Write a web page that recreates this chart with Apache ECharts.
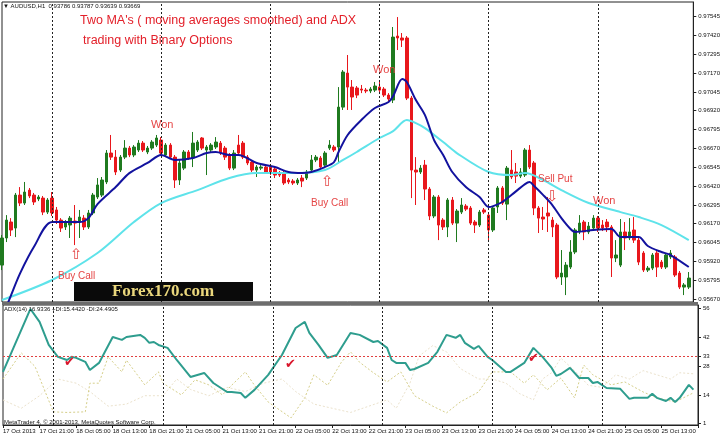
<!DOCTYPE html>
<html><head><meta charset="utf-8">
<script src="https://cdn.jsdelivr.net/npm/echarts@6/dist/echarts.min.js"></script>
<style>html,body{margin:0;padding:0;background:#fff}#c{width:723px;height:438px}</style>
</head><body><div id="c"></div>
<script>
const tickLabels = ['17 Oct 2013','17 Oct 21:00','18 Oct 05:00','18 Oct 13:00','18 Oct 21:00','21 Oct 05:00','21 Oct 13:00','21 Oct 21:00','22 Oct 05:00','22 Oct 13:00','22 Oct 21:00','23 Oct 05:00','23 Oct 13:00','23 Oct 21:00','24 Oct 05:00','24 Oct 13:00','24 Oct 21:00','25 Oct 05:00','25 Oct 13:00'];
const barCount = 152;
const daySeparators = [11,35,59,83,107,131];
const priceTicks = [0.95670,0.95795,0.95920,0.96045,0.96170,0.96295,0.96420,0.96545,0.96670,0.96795,0.96920,0.97045,0.97170,0.97295,0.97420,0.97545];
const adxTicks = [1,14,28,33,42,56];
const adxLevel = 33;

const opens = [0.95895,0.96075,0.96181,0.96141,0.96360,0.96307,0.96393,0.96360,0.96334,0.96340,0.96247,0.96340,0.96261,0.96194,0.96148,0.96161,0.96188,0.96181,0.96207,0.96148,
0.96241,0.96347,0.96360,0.96447,0.96639,0.96612,0.96526,0.96612,0.96672,0.96626,0.96659,0.96705,0.96646,0.96672,0.96692,0.96725,0.96626,0.96692,0.96612,0.96460,
0.96539,0.96646,0.96606,0.96659,0.96739,0.96659,0.96659,0.96679,0.96705,0.96672,0.96626,0.96539,0.96692,0.96705,0.96612,0.96579,0.96526,0.96539,0.96546,0.96546,
0.96533,0.96506,0.96506,0.96460,0.96453,0.96440,0.96473,0.96473,0.96526,0.96593,0.96606,0.96559,0.96672,0.96679,0.96679,0.96944,0.97170,0.97077,0.97071,0.97064,
0.97057,0.97051,0.97057,0.97077,0.97064,0.97024,0.96991,0.97416,0.97403,0.97403,0.97004,0.96526,0.96513,0.96559,0.96400,0.96221,0.96347,0.96194,0.96148,0.96327,
0.96174,0.96247,0.96287,0.96274,0.96181,0.96161,0.96261,0.96227,0.96128,0.96281,0.96407,0.96300,0.96526,0.96513,0.96486,0.96493,0.96659,0.96573,0.96274,0.96214,
0.96241,0.96194,0.96161,0.95816,0.95816,0.95882,0.95982,0.96115,0.96181,0.96115,0.96141,0.96207,0.96161,0.96181,0.96148,0.95942,0.95895,0.96115,0.96075,0.96128,
0.96061,0.95975,0.95862,0.95875,0.95975,0.95915,0.95882,0.95949,0.95949,0.95842,0.95749,0.95749];
const closes = [0.96075,0.96194,0.96128,0.96360,0.96307,0.96380,0.96354,0.96314,0.96347,0.96247,0.96327,0.96241,0.96194,0.96141,0.96181,0.96207,0.96174,0.96214,0.96148,0.96241,
0.96360,0.96427,0.96460,0.96639,0.96612,0.96513,0.96612,0.96672,0.96626,0.96679,0.96705,0.96659,0.96672,0.96712,0.96739,0.96639,0.96692,0.96612,0.96460,0.96573,
0.96646,0.96606,0.96705,0.96712,0.96672,0.96679,0.96692,0.96712,0.96639,0.96612,0.96539,0.96639,0.96639,0.96612,0.96573,0.96526,0.96546,0.96546,0.96513,0.96506,
0.96493,0.96493,0.96440,0.96447,0.96440,0.96460,0.96453,0.96513,0.96593,0.96612,0.96546,0.96639,0.96692,0.96659,0.96944,0.97177,0.97077,0.97011,0.97024,0.97057,
0.97051,0.97064,0.97084,0.97057,0.97024,0.96998,0.97409,0.97403,0.97389,0.97004,0.96526,0.96513,0.96539,0.96400,0.96221,0.96347,0.96161,0.96148,0.96327,0.96174,
0.96254,0.96294,0.96267,0.96174,0.96161,0.96247,0.96247,0.96128,0.96274,0.96407,0.96307,0.96539,0.96480,0.96486,0.96513,0.96659,0.96546,0.96274,0.96207,0.96201,
0.96221,0.96148,0.95816,0.95842,0.95895,0.95982,0.96128,0.96174,0.96115,0.96154,0.96207,0.96141,0.96141,0.96148,0.95942,0.95962,0.96115,0.96075,0.96115,0.96061,
0.95915,0.95862,0.95875,0.95962,0.95882,0.95882,0.95962,0.95975,0.95829,0.95749,0.95763,0.95809];
const lows = [0.95862,0.96048,0.96088,0.96081,0.96287,0.96294,0.96340,0.96294,0.96320,0.96227,0.96234,0.96221,0.96168,0.96115,0.96128,0.96075,0.96028,0.96075,0.96128,0.96135,
0.96227,0.96334,0.96347,0.96433,0.96593,0.96493,0.96513,0.96599,0.96612,0.96612,0.96646,0.96646,0.96632,0.96659,0.96679,0.96626,0.96612,0.96599,0.96407,0.96427,
0.96526,0.96593,0.96546,0.96646,0.96659,0.96493,0.96646,0.96666,0.96626,0.96593,0.96526,0.96526,0.96626,0.96599,0.96559,0.96513,0.96480,0.96526,0.96500,0.96493,
0.96473,0.96480,0.96427,0.96433,0.96427,0.96427,0.96413,0.96460,0.96513,0.96579,0.96533,0.96546,0.96659,0.96646,0.96573,0.96925,0.96925,0.96925,0.97004,0.97037,
0.97037,0.97037,0.97044,0.97044,0.97011,0.96984,0.96971,0.97323,0.97343,0.96991,0.96340,0.96294,0.96500,0.96327,0.96194,0.96207,0.96061,0.96128,0.96081,0.96161,
0.96048,0.96234,0.96254,0.96161,0.96108,0.96148,0.96234,0.96061,0.96115,0.96241,0.96294,0.96194,0.96466,0.96440,0.96473,0.96480,0.96533,0.96227,0.96108,0.96128,
0.96115,0.96081,0.95802,0.95763,0.95696,0.95869,0.95968,0.96101,0.96061,0.96101,0.96128,0.96115,0.96121,0.96115,0.95816,0.95915,0.95882,0.95995,0.96061,0.96042,
0.95895,0.95849,0.95849,0.95862,0.95816,0.95869,0.95869,0.95935,0.95816,0.95736,0.95696,0.95736];
const highs = [0.96095,0.96227,0.96207,0.96374,0.96413,0.96447,0.96407,0.96374,0.96360,0.96354,0.96340,0.96380,0.96281,0.96207,0.96194,0.96221,0.96294,0.96261,0.96227,0.96261,
0.96374,0.96473,0.96480,0.96659,0.96759,0.96659,0.96626,0.96725,0.96686,0.96692,0.96725,0.96719,0.96686,0.96725,0.96759,0.96745,0.96705,0.96705,0.96626,0.96593,
0.96659,0.96659,0.96779,0.96725,0.96745,0.96692,0.96705,0.96745,0.96719,0.96686,0.96639,0.96659,0.96759,0.96719,0.96626,0.96593,0.96559,0.96559,0.96559,0.96559,
0.96546,0.96520,0.96520,0.96473,0.96466,0.96473,0.96493,0.96526,0.96626,0.96626,0.96619,0.96652,0.96725,0.96692,0.97077,0.97190,0.97290,0.97124,0.97084,0.97091,
0.97071,0.97077,0.97111,0.97124,0.97077,0.97037,0.97476,0.97542,0.97436,0.97416,0.97018,0.96612,0.96559,0.96593,0.96413,0.96360,0.96360,0.96207,0.96340,0.96347,
0.96267,0.96340,0.96300,0.96287,0.96194,0.96261,0.96274,0.96241,0.96287,0.96420,0.96420,0.96553,0.96659,0.96573,0.96539,0.96672,0.96692,0.96586,0.96287,0.96281,
0.96347,0.96214,0.96174,0.95995,0.95915,0.96061,0.96141,0.96227,0.96194,0.96181,0.96227,0.96221,0.96194,0.96201,0.96161,0.96061,0.96201,0.96181,0.96207,0.96214,
0.96075,0.95988,0.95889,0.95975,0.95988,0.95929,0.95975,0.95995,0.95962,0.95856,0.95776,0.95849];

const maFast = [[0,0.95544],[2,0.95696],[4,0.95842],[7,0.96015],[11,0.96181],[17,0.96181],[19,0.96207],[21,0.96300],[25,0.96413],[28,0.96506],[32,0.96573],[35,0.96626],[38,0.96593],[42,0.96606],[45,0.96639],[47,0.96646],[50,0.96626],[52,0.96626],[56,0.96573],[60,0.96546],[63,0.96513],[66,0.96506],[68,0.96513],[71,0.96546],[73,0.96579],[74,0.96646],[76,0.96759],[79,0.96858],[82,0.96938],[85,0.96978],[86,0.97018],[88,0.97131],[89,0.97111],[91,0.96991],[93,0.96891],[95,0.96725],[97,0.96626],[99,0.96513],[102,0.96413],[105,0.96347],[107,0.96281],[108,0.96287],[110,0.96314],[112,0.96360],[115,0.96433],[116,0.96447],[117,0.96420],[119,0.96360],[121,0.96294],[123,0.96207],[125,0.96135],[126,0.96115],[130,0.96128],[134,0.96135],[136,0.96081],[140,0.96081],[142,0.96022],[145,0.95982],[147,0.95962],[151,0.95882]];
const maSlow = [[0,0.95663],[11,0.95796],[21,0.95975],[29,0.96181],[35,0.96307],[43,0.96393],[50,0.96473],[56,0.96506],[65,0.96506],[71,0.96526],[75,0.96593],[78,0.96646],[83,0.96739],[86,0.96785],[89,0.96858],[91,0.96838],[93,0.96805],[97,0.96712],[100,0.96639],[107,0.96513],[112,0.96493],[115,0.96506],[119,0.96460],[123,0.96393],[129,0.96307],[136,0.96247],[140,0.96214],[145,0.96161],[151,0.96061]];
const adx = [[0,25.4],[6,55.5],[8,49.3],[10,38.3],[12,32.6],[14,31.1],[15,32.6],[16,32.1],[18,30.2],[19,26.3],[21,29.7],[24,42.1],[26,40.7],[27,42.1],[30,43.1],[31,41.7],[32,39.3],[33,39.7],[34,38.3],[36,36.9],[38,31.1],[41,23.0],[44,24.9],[46,20.1],[49,15.8],[50,15.8],[52,15.3],[53,13.0],[55,16.8],[58,24.0],[61,33.5],[64,46.4],[66,49.3],[67,44.1],[69,38.3],[71,32.1],[73,33.5],[76,44.0],[78,43.1],[81,39.7],[82,40.2],[84,36.9],[85,31.1],[86,29.7],[88,29.7],[89,26.3],[90,26.8],[93,29.7],[95,35.0],[97,43.1],[99,41.7],[100,43.1],[101,39.3],[103,36.4],[104,37.8],[106,32.6],[107,31.1],[110,25.4],[111,25.4],[114,29.7],[116,36.9],[118,32.6],[120,27.3],[121,23.5],[122,24.4],[124,27.3],[126,22.5],[128,22.5],[129,20.1],[130,20.6],[132,17.7],[135,17.3],[137,12.5],[138,13.0],[141,13.0],[142,14.9],[143,13.0],[145,11.5],[146,13.0],[147,11.0],[148,13.0],[150,19.2],[151,16.9]];
const plusDI = [[0,22],[4,34.5],[7,28],[11,6.3],[14,6],[18,6.3],[19,20],[21,20],[23,32.6],[26,25.4],[27,31],[31,19.2],[34,25.4],[35,20],[39,14.4],[42,21.6],[45,19.2],[48,14.4],[50,19],[53,25.4],[55,19],[58,11],[63,3.4],[66,13],[68,24],[71,19],[74,30],[76,35],[78,30],[81,25],[84,20.6],[87,25.4],[90,14],[94,9],[97,5.8],[100,11],[104,15.8],[107,25.4],[111,25.4],[114,20],[116,24],[119,16.8],[122,22.5],[125,13],[127,28.7],[129,24],[133,19.2],[136,20.6],[140,15.8],[143,13],[147,11],[151,15.4]];
const minusDI = [[0,12],[4,8],[8,14],[12,22],[16,20],[19,16],[23,9],[27,10],[31,14],[35,14],[38,22],[41,17],[45,14],[49,18],[53,16],[57,20],[61,22],[64,16],[68,10],[72,8],[76,6],[80,9],[84,12],[86,8],[89,20],[91,33],[94,38],[97,35],[100,27],[104,22],[107,22],[110,20],[113,15],[116,12],[118,22],[120,25],[122,32],[125,26],[128,19],[131,18],[134,24],[137,22],[140,26],[143,24],[146,22],[148,25],[151,24.5]];

const categories = [];
for (let i = 0; i <= barCount; i++) categories.push('b' + i);
const candles = opens.map((o, i) => [o, closes[i], lows[i], highs[i]]);

const FONT = 'Liberation Sans';
const sepLine = {
  silent: true, symbol: 'none', label: {show: false},
  lineStyle: {color: '#222', type: [2, 2], width: 1},
  data: daySeparators.map(b => ({xAxis: b}))
};
function txt(text, x, y, size, color, family) {
  return {type: 'text', x: x, y: y, z: 100,
    style: {text: text, fill: color, font: size + 'px "' + (family || FONT) + '"', textAlign: 'left', textVerticalAlign: 'middle'}};
}

const chart = echarts.init(document.getElementById('c'), null, {renderer: 'canvas'});
chart.setOption({
  animation: false,
  backgroundColor: '#fff',
  grid: [
    {left: 2, right: 25, top: 2, height: 300, show: true, borderColor: '#222', borderWidth: 1, backgroundColor: 'transparent'},
    {left: 2, right: 25, top: 305, height: 120, show: true, borderColor: '#222', borderWidth: 1, backgroundColor: 'transparent'}
  ],
  xAxis: [
    {type: 'category', gridIndex: 0, data: categories, boundaryGap: false,
     axisLine: {show: false}, axisTick: {show: false}, axisLabel: {show: false}, splitLine: {show: false}},
    {type: 'category', gridIndex: 1, data: categories, boundaryGap: false,
     axisLine: {show: true, lineStyle: {color: '#222'}},
     axisTick: {show: true, interval: 7, length: 3, lineStyle: {color: '#222'}},
     axisLabel: {show: true, interval: 7, align: 'left', margin: 3, fontSize: 6, fontFamily: FONT, color: '#111',
       formatter: (v, idx) => (idx % 8 === 0 && tickLabels[idx / 8]) ? tickLabels[idx / 8] : ''},
     splitLine: {show: false}}
  ],
  yAxis: [
    {type: 'value', gridIndex: 0, position: 'right', min: 0.95650, max: 0.97642, scale: true,
     axisLine: {show: true, lineStyle: {color: '#222'}},
     axisTick: {show: true, length: 3, customValues: priceTicks, lineStyle: {color: '#222'}},
     axisLabel: {show: true, customValues: priceTicks, margin: 5, fontSize: 6, fontFamily: FONT, color: '#111',
       formatter: v => v.toFixed(5)},
     splitLine: {show: false}},
    {type: 'value', gridIndex: 1, position: 'right', min: 0, max: 57.4,
     axisLine: {show: true, lineStyle: {color: '#222'}},
     axisTick: {show: true, length: 3, customValues: adxTicks, lineStyle: {color: '#222'}},
     axisLabel: {show: true, customValues: adxTicks, margin: 5, fontSize: 6, fontFamily: FONT, color: '#111'},
     splitLine: {show: false}}
  ],
  series: [
    {type: 'candlestick', xAxisIndex: 0, yAxisIndex: 0, data: candles, barWidth: 3,
     itemStyle: {color: '#1f7a1f', borderColor: '#1f7a1f', color0: '#e8171c', borderColor0: '#e8171c', borderWidth: 1},
     markLine: sepLine},
    {type: 'line', xAxisIndex: 0, yAxisIndex: 0, data: maSlow, smooth: 0.3, symbol: 'none',
     lineStyle: {color: '#5ee3ea', width: 2}},
    {type: 'line', xAxisIndex: 0, yAxisIndex: 0, data: maFast, smooth: 0.3, symbol: 'none',
     lineStyle: {color: '#12129e', width: 2}},
    {type: 'line', xAxisIndex: 1, yAxisIndex: 1, data: minusDI, symbol: 'none',
     lineStyle: {color: '#ebe2cc', width: 1, type: [2, 2]}},
    {type: 'line', xAxisIndex: 1, yAxisIndex: 1, data: plusDI, symbol: 'none',
     lineStyle: {color: '#d6cf8a', width: 1, type: [2, 2]}},
    {type: 'line', xAxisIndex: 1, yAxisIndex: 1, data: adx, symbol: 'none',
     lineStyle: {color: '#2e9d8e', width: 2},
     markLine: {silent: true, symbol: 'none', label: {show: false},
       data: [
         ...daySeparators.map(b => ({xAxis: b, lineStyle: {color: '#222', type: [2, 2], width: 1}})),
         {yAxis: adxLevel, lineStyle: {color: '#e04040', type: [2, 2], width: 1}}
       ]}}
  ],
  graphic: [
    {type: 'rect', shape: {x: 2, y: 302, width: 696, height: 3}, style: {fill: '#6d6d6d'}, z: 90},
    txt('\u25BC AUDUSD,H1  0.93786 0.93787 0.93639 0.93669', 3, 6, 6, '#111'),
    txt("Two MA's ( moving averages smoothed) and ADX", 80, 21, 12.5, '#e3202a'),
    txt('trading with Binary Options', 83, 41, 12.5, '#e3202a'),
    txt('Won', 151, 125, 11, '#e54545'),
    txt('Won', 373, 70, 11, '#e54545'),
    txt('Won', 593, 201, 11, '#e54545'),
    txt('Buy Call', 58, 276, 10, '#e54545'),
    txt('Buy Call', 311, 203, 10, '#e54545'),
    txt('Sell Put', 538, 179, 10, '#e54545'),
    txt('\u21E7', 70, 255, 15, '#e54545', 'DejaVu Sans'),
    txt('\u21E7', 321, 182, 15, '#e54545', 'DejaVu Sans'),
    txt('\u21E9', 546, 197, 15, '#e54545', 'DejaVu Sans'),
    {type: 'rect', shape: {x: 74, y: 282, width: 179, height: 19}, style: {fill: '#0a0a0a'}, z: 95},
    {type: 'text', x: 163, y: 292, z: 100, style: {text: 'Forex170.com', fill: '#ead77c', font: 'bold 17px "Liberation Serif"', textAlign: 'center', textVerticalAlign: 'middle'}},
    txt('ADX(14) 16.9336 +DI:15.4420 -DI:24.4905', 4, 309, 6, '#111'),
    txt('MetaTrader 4, \u00A9 2001-2013, MetaQuotes Software Corp.', 4, 422, 6, '#111'),
    txt('\u2714', 64, 363, 13, '#d9142a', 'DejaVu Sans'),
    txt('\u2714', 285, 365, 13, '#d9142a', 'DejaVu Sans'),
    txt('\u2714', 528, 359, 13, '#d9142a', 'DejaVu Sans')
  ]
});
</script>
</body></html>
